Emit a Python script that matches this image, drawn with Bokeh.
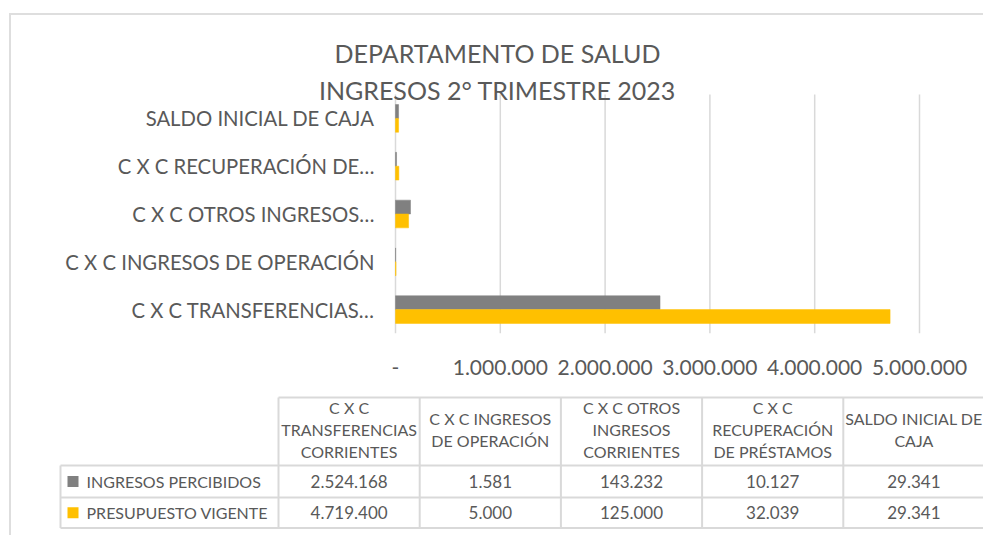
from bokeh.plotting import figure
from bokeh.layouts import column
from bokeh.models import (Range1d, FixedTicker, CustomJSTickFormatter,
                          ColumnDataSource, Label)
from bokeh.transform import dodge
from bokeh.core.properties import value
from bokeh.embed import file_html
from bokeh.resources import INLINE

# ---------------- data ----------------
title_lines = ["DEPARTAMENTO DE SALUD", "INGRESOS 2° TRIMESTRE 2023"]
categories = ["C X C TRANSFERENCIAS CORRIENTES", "C X C INGRESOS DE OPERACIÓN",
              "C X C OTROS INGRESOS CORRIENTES", "C X C RECUPERACIÓN DE PRÉSTAMOS",
              "SALDO INICIAL DE CAJA"]
axis_labels = ["C X C TRANSFERENCIAS…", "C X C INGRESOS DE OPERACIÓN",
               "C X C OTROS INGRESOS…", "C X C RECUPERACIÓN DE…",
               "SALDO INICIAL DE CAJA"]
header_labels = ["C X C\nTRANSFERENCIAS\nCORRIENTES", "C X C INGRESOS\nDE OPERACIÓN",
                 "C X C OTROS\nINGRESOS\nCORRIENTES", "C X C\nRECUPERACIÓN\nDE PRÉSTAMOS",
                 "SALDO INICIAL DE\nCAJA"]
series_names = ["INGRESOS PERCIBIDOS", "PRESUPUESTO VIGENTE"]
ingresos_percibidos = [2524168, 1581, 143232, 10127, 29341]
presupuesto_vigente = [4719400, 5000, 125000, 32039, 29341]
x_ticks = [0, 1000000, 2000000, 3000000, 4000000, 5000000]

# ---------------- style / layout constants ----------------
GREY = "#808080"
GOLD = "#FFC000"
TXT = "#595959"
LINE = "#D9D9D9"
FONT = "Lato"
W = 983
CH = 390          # chart figure height
TH = 145          # table figure height
AXIS_H = 57       # room for the value axis under the plot area
X_ZERO = 395      # px of value 0
X_MAX = 919       # px of last tick
BAND = 47.8       # px per category

n = len(categories)


def fmt(v):
    return "{:,}".format(v).replace(",", ".")


# ---------------- chart ----------------
px_per = (X_MAX - X_ZERO) / x_ticks[-1]
frame_h = CH - AXIS_H
p = figure(width=W, height=CH,
           x_range=Range1d(-X_ZERO / px_per, (W - X_ZERO) / px_per),
           y_range=Range1d(-0.5, -0.5 + frame_h / BAND),
           y_axis_location=None, output_backend="svg", toolbar_location=None,
           min_border_left=0, min_border_right=0, min_border_top=0,
           min_border_bottom=AXIS_H, outline_line_color=None,
           border_fill_color=None, background_fill_color=None)
p.grid.visible = False

src = ColumnDataSource(dict(idx=list(range(n)), cat=categories, lab=axis_labels,
                            perc=ingresos_percibidos, pres=presupuesto_vigente))

# vertical gridlines at the value ticks, spanning the category bands
p.segment(x0=x_ticks, x1=x_ticks, y0=[-0.5] * len(x_ticks), y1=[n - 0.5] * len(x_ticks),
          line_color=LINE, line_width=1.5)

p.hbar(y=dodge("idx", 0.145), right="perc", left=0, height=0.29,
       source=src, fill_color=GREY, line_color=GREY, line_width=0.5)
p.hbar(y=dodge("idx", -0.145), right="pres", left=0, height=0.29,
       source=src, fill_color=GOLD, line_color=GOLD, line_width=0.5)

p.text(x=0, y="idx", text="lab", source=src, x_offset=-21, text_align="right",
       text_baseline="middle", text_font=value(FONT), text_font_size="20.3px",
       text_color=TXT)

tick = FixedTicker(ticks=x_ticks)
p.xaxis.ticker = tick
p.xaxis.formatter = CustomJSTickFormatter(code=r"""
if (tick == 0) { return '-'; }
return Math.round(tick).toString().replace(/\B(?=(\d{3})+(?!\d))/g, '.');
""")
p.xaxis.axis_line_color = None
p.xaxis.major_tick_line_color = None
p.xaxis.minor_tick_line_color = None
p.xaxis.major_label_text_font = FONT
p.xaxis.major_label_text_color = TXT
p.xaxis.major_label_text_font_size = "21px"
p.xaxis.major_label_standoff = 20

for t_txt, ty in zip(title_lines, [52, 89]):
    p.add_layout(Label(x=497, y=frame_h - ty, x_units="screen", y_units="screen",
                       text=t_txt, text_align="center", text_baseline="middle",
                       text_font=FONT, text_font_size="25px", text_color=TXT))

# ---------------- data table ----------------
COL_W = 141.2
T_X0 = 278  # px of the first value column


def cx(px):
    return (px - T_X0) / COL_W


TOP = CH  # page px where the table figure starts
t = figure(width=W, height=TH, x_range=Range1d(cx(0), cx(W)),
           y_range=Range1d(TH, 0), x_axis_location=None, y_axis_location=None,
           output_backend="svg", toolbar_location=None, min_border=0,
           outline_line_color=None, border_fill_color=None,
           background_fill_color=None)
t.grid.visible = False

HEAD_TOP, HEAD_BOT, ROW1_BOT, ROW2_BOT = 397 - TOP, 465 - TOP, 497 - TOP, 527.5 - TOP
LEG_LEFT = cx(60)

hx0 = [0, LEG_LEFT, LEG_LEFT, LEG_LEFT]
hy = [HEAD_TOP, HEAD_BOT, ROW1_BOT, ROW2_BOT]
t.segment(x0=hx0, x1=[n] * 4, y0=hy, y1=hy, line_color=LINE, line_width=2)
vx = list(range(n + 1))
t.segment(x0=vx, x1=vx, y0=[HEAD_TOP] * (n + 1), y1=[ROW2_BOT] * (n + 1),
          line_color=LINE, line_width=2)
t.segment(x0=[LEG_LEFT], x1=[LEG_LEFT], y0=[HEAD_BOT], y1=[ROW2_BOT],
          line_color=LINE, line_width=2)

centers = [i + 0.5 for i in range(n)]
t.text(x=centers, y=[(HEAD_TOP + HEAD_BOT) / 2 - 2] * n, text=header_labels,
       text_align="center", text_baseline="middle", text_font=value(FONT),
       text_font_size="16px", text_color=TXT, text_line_height=1.15)
row_y = [(HEAD_BOT + ROW1_BOT) / 2, (ROW1_BOT + ROW2_BOT) / 2]
for vals, yy in zip([ingresos_percibidos, presupuesto_vigente], row_y):
    t.text(x=centers, y=[yy] * n, text=[fmt(v) for v in vals],
           text_align="center", text_baseline="middle", text_font=value(FONT),
           text_font_size="17px", text_color=TXT)
t.rect(x=[cx(72.5)] * 2, y=row_y, width=11, height=11, width_units="screen",
       height_units="screen", fill_color=[GREY, GOLD], line_color=None)
t.text(x=[cx(86)] * 2, y=row_y, text=series_names, text_align="left",
       text_baseline="middle", text_font=value(FONT), text_font_size="16px",
       text_color=TXT)

border_css = ("linear-gradient(#DEDEDE, #DEDEDE) 9px 13px / 2px 100% no-repeat, "
              "linear-gradient(#DEDEDE, #DEDEDE) 9px 13px / 100% 2px no-repeat, #FFFFFF")
layout = column(p, t, spacing=0, styles={"background": border_css})
open("out.html", "w").write(file_html(layout, INLINE))
